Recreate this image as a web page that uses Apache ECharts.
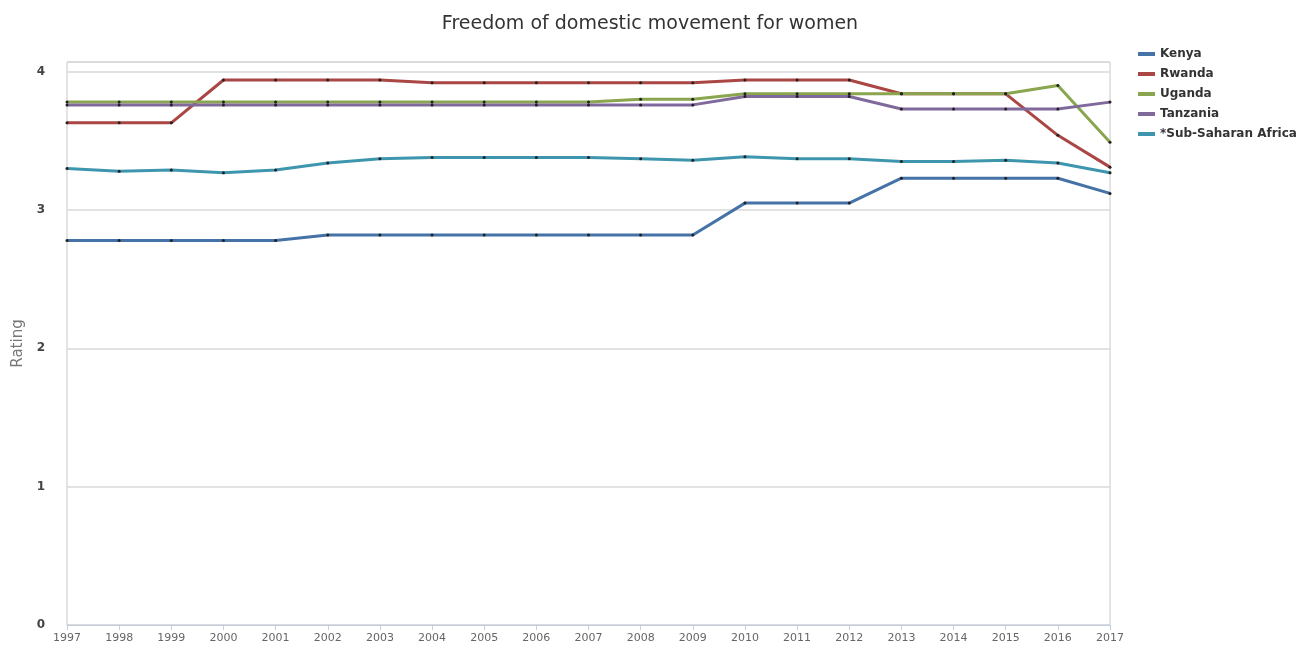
<!DOCTYPE html>
<html>
<head>
<meta charset="utf-8">
<script src="https://cdn.jsdelivr.net/npm/echarts@6/dist/echarts.min.js"></script>
<style>
  html, body { margin: 0; padding: 0; background: #fff; }
  #chart { width: 1300px; height: 651px; }
</style>
</head>
<body>
<div id="chart"></div>
<script>
// Years on the x axis
const years = ['1997','1998','1999','2000','2001','2002','2003','2004','2005','2006','2007',
               '2008','2009','2010','2011','2012','2013','2014','2015','2016','2017'];

// Ratings per country, one value per year
const kenya    = [2.78,2.78,2.78,2.78,2.78,2.82,2.82,2.82,2.82,2.82,2.82,2.82,2.82,3.05,3.05,3.05,3.23,3.23,3.23,3.23,3.12];
const rwanda   = [3.63,3.63,3.63,3.94,3.94,3.94,3.94,3.92,3.92,3.92,3.92,3.92,3.92,3.94,3.94,3.94,3.84,3.84,3.84,3.54,3.31];
const uganda   = [3.78,3.78,3.78,3.78,3.78,3.78,3.78,3.78,3.78,3.78,3.78,3.80,3.80,3.84,3.84,3.84,3.84,3.84,3.84,3.90,3.49];
const tanzania = [3.76,3.76,3.76,3.76,3.76,3.76,3.76,3.76,3.76,3.76,3.76,3.76,3.76,3.82,3.82,3.82,3.73,3.73,3.73,3.73,3.78];
const ssa      = [3.30,3.28,3.29,3.27,3.29,3.34,3.37,3.38,3.38,3.38,3.38,3.37,3.36,3.385,3.37,3.37,3.35,3.35,3.36,3.34,3.27];

const seriesNames  = ['Kenya','Rwanda','Uganda','Tanzania','*Sub-Saharan Africa'];
const seriesData   = [kenya, rwanda, uganda, tanzania, ssa];
const seriesColors = ['#4572A7','#AA4643','#89A54E','#80699B','#3D96AE'];

const chart = echarts.init(document.getElementById('chart'), null, { renderer: 'canvas' });

const font = '"DejaVu Sans",sans-serif';

chart.setOption({
  animation: false,
  backgroundColor: '#fff',
  title: {
    text: 'Freedom of domestic movement for women',
    left: 'center',
    top: 10,
    textStyle: { fontFamily: font, fontSize: 19, fontWeight: 'normal', color: '#333' }
  },
  legend: {
    orient: 'vertical',
    left: 1133,
    top: 42,
    itemGap: 6,
    itemWidth: 17,
    itemHeight: 4,
    icon: 'rect',
    textStyle: { fontFamily: font, fontSize: 12, fontWeight: 'bold', color: '#333', lineHeight: 14 },
    data: seriesNames.map((n, i) => ({ name: n, itemStyle: { color: seriesColors[i] } }))
  },
  grid: {
    left: 67, right: 190, top: 62, bottom: 26,
    show: true, borderColor: '#c8c8c8', borderWidth: 1, backgroundColor: 'transparent'
  },
  xAxis: {
    type: 'category',
    data: years,
    boundaryGap: false,
    axisLine: { lineStyle: { color: '#C0D0E0', width: 1 } },
    axisTick: { show: true, length: 5, alignWithLabel: true, lineStyle: { color: '#C0D0E0' } },
    axisLabel: { fontFamily: font, fontSize: 11, color: '#666', margin: 8 },
    splitLine: { show: false }
  },
  yAxis: {
    type: 'value',
    min: 0,
    max: 4.07,
    interval: 1,
    name: 'Rating',
    nameLocation: 'middle',
    nameGap: 41,
    nameRotate: 90,
    nameTextStyle: { fontFamily: font, fontSize: 15, color: '#777' },
    axisLine: { show: false },
    axisTick: { show: false },
    axisLabel: {
      fontFamily: font, fontSize: 12, fontWeight: 'bold', color: '#444', margin: 22,
      formatter: v => (Number.isInteger(v) ? String(v) : '')
    },
    splitLine: { lineStyle: { color: '#d8d8d8', width: 1.5 } }
  },
  series: seriesNames.map((n, i) => ({
    name: n,
    type: 'line',
    data: seriesData[i],
    color: seriesColors[i],
    lineStyle: { color: seriesColors[i], width: 3 },
    symbol: 'circle',
    symbolSize: 3,
    showSymbol: true,
    itemStyle: { color: '#222' },
    emphasis: { disabled: true }
  }))
});
</script>
</body>
</html>
